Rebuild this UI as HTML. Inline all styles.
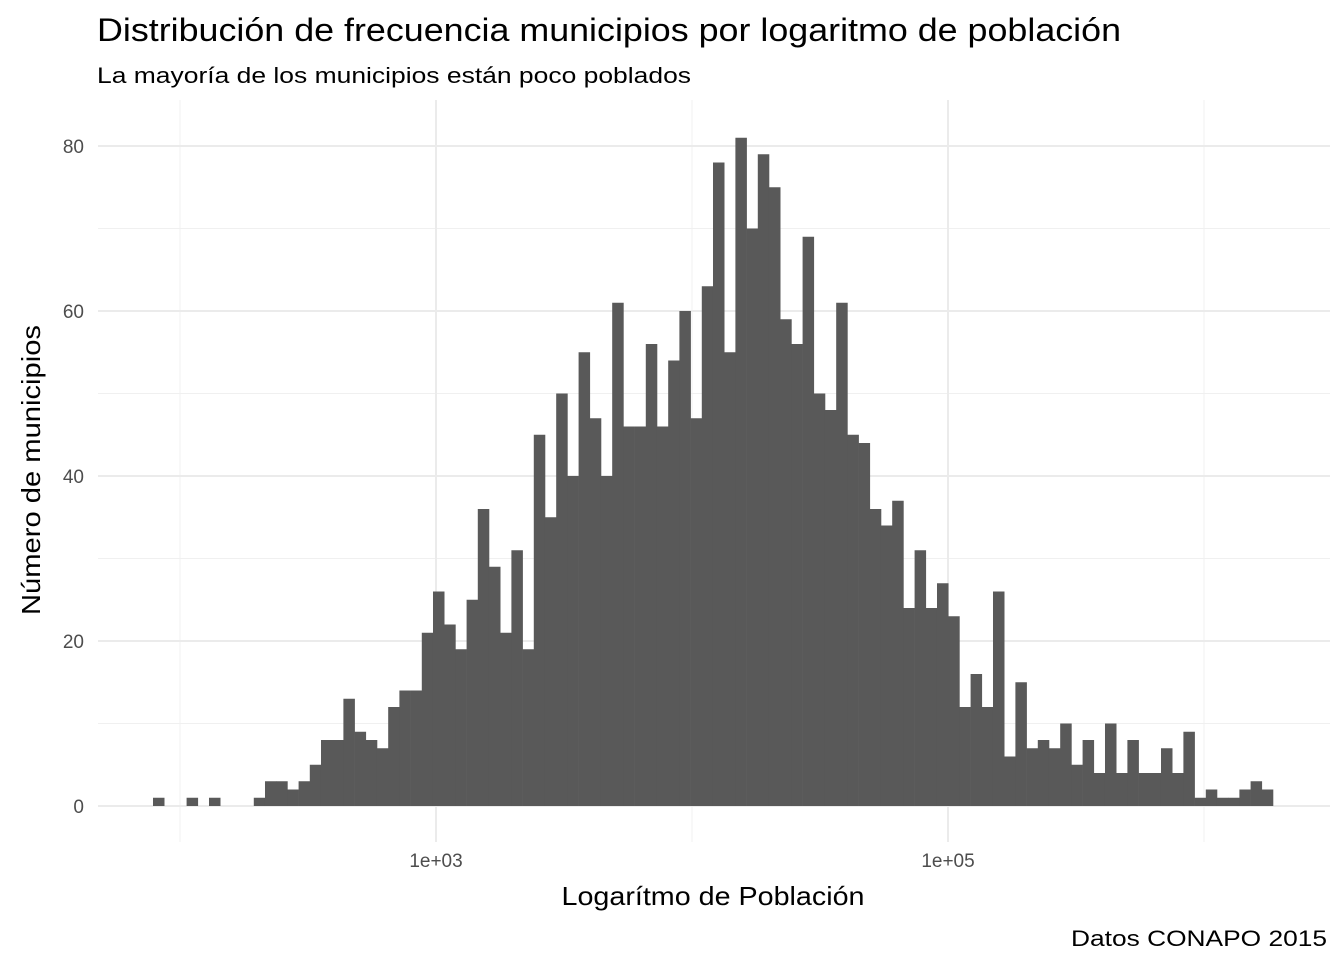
<!DOCTYPE html>
<html><head><meta charset="utf-8"><style>
body{margin:0;background:#fff;}
svg{display:block;font-family:"Liberation Sans",Arial,sans-serif;}
</style></head><body>
<svg id="chart" width="1344" height="960">
<text x="97" y="41" font-size="32" textLength="1024" lengthAdjust="spacingAndGlyphs" fill="#000">Distribución de frecuencia municipios por logaritmo de población</text>
<text x="97" y="83" font-size="22" textLength="594" lengthAdjust="spacingAndGlyphs" fill="#000">La mayoría de los municipios están poco poblados</text>
<g id="grid"></g>
<g id="bars"></g>
<g id="axes"></g>
<text x="713" y="905" font-size="26" textLength="303" lengthAdjust="spacingAndGlyphs" text-anchor="middle" fill="#000">Logarítmo de Población</text>
<text transform="translate(40,470) rotate(-90)" font-size="26" textLength="290" lengthAdjust="spacingAndGlyphs" text-anchor="middle" fill="#000">Número de municipios</text>
<text x="1071" y="946" font-size="22" textLength="256" lengthAdjust="spacingAndGlyphs" fill="#000">Datos CONAPO 2015</text>
</svg>
<script>
const counts=[1,0,0,1,0,1,0,0,0,1,3,3,2,3,5,8,8,13,9,8,7,12,14,14,21,26,22,19,25,36,29,21,31,19,45,35,50,40,55,47,40,61,46,46,56,46,54,60,47,63,78,55,81,70,79,75,59,56,69,50,48,61,45,44,36,34,37,24,31,24,27,23,12,16,12,26,6,15,7,8,7,10,5,8,4,10,4,8,4,4,7,4,9,1,2,1,1,2,3,2];
const binStart=[1.8945];
const binWidth=[0.04375];
const yTicks=[0,20,40,60,80];
const yMinor=[10,30,50,70];
const xTicks=[3,5];
const xTickLabels=["1e+03","1e+05"];
const xMinor=[2,4,6];
const NS="http://www.w3.org/2000/svg";
function X(l){return 436+(l-3)*256;}
function Y(v){return 806-v*8.25;}
function mk(tag,attrs,parent){const e=document.createElementNS(NS,tag);for(const k in attrs)e.setAttribute(k,attrs[k]);parent.appendChild(e);return e;}
const grid=document.getElementById('grid'),bars=document.getElementById('bars'),axes=document.getElementById('axes');
const L=98,R=1330,T=100,B=842;
yMinor.forEach(v=>{const e=mk('line',{x1:L,x2:R,y1:Y(v),y2:Y(v),stroke:'#f0f0f0','stroke-width':1},grid);

});
xMinor.forEach(v=>{const e=mk('line',{x1:X(v),x2:X(v),y1:T,y2:B,stroke:'#f0f0f0','stroke-width':1},grid);

});
yTicks.forEach(v=>{const e=mk('line',{x1:L,x2:R,y1:Y(v),y2:Y(v),stroke:'#ebebeb','stroke-width':2},grid);


const t=mk('text',{x:84,y:Y(v)+7,'font-size':19,'text-anchor':'end',fill:'#4d4d4d'},axes);t.textContent=v;

});
xTicks.forEach((v,i)=>{const e=mk('line',{x1:X(v),x2:X(v),y1:T,y2:B,stroke:'#ebebeb','stroke-width':2},grid);


const t=mk('text',{x:X(v),y:867,'font-size':19,'text-anchor':'middle',fill:'#4d4d4d'},axes);t.textContent=xTickLabels[i];

});
counts.forEach((c,i)=>{if(c<=0)return;const x0=X(binStart[0]+i*binWidth[0]),x1=X(binStart[0]+(i+1)*binWidth[0]);
const r=mk('rect',{x:x0,y:Y(c),width:x1-x0+0.3,height:Y(0)-Y(c),fill:'#595959'},bars);

});
</script>
</body></html>
